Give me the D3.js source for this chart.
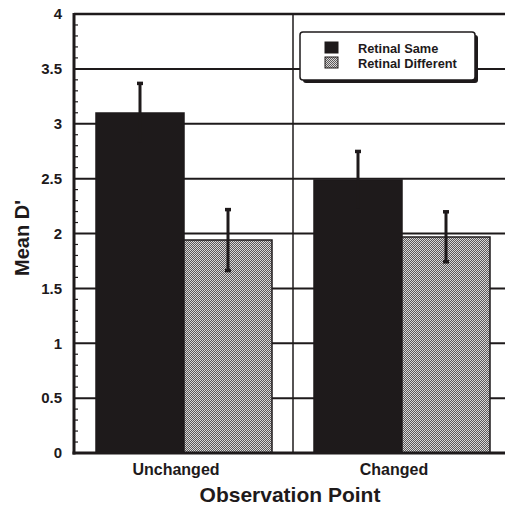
<!DOCTYPE html>
<html lang="en">
<head>
  <meta charset="UTF-8">
  <title>Mean D' by Observation Point</title>
  <style>
    body { margin: 0; background: #fff; }
    svg { display: block; }
    text { font-family: "Liberation Sans", Arial, sans-serif; fill: #1e1a1b; }
  </style>
</head>
<body>
  <svg width="505" height="506"></svg>
  <script src="https://d3js.org/d3.v7.min.js"></script>
  <script>
    const categories = ["Unchanged", "Changed"];
    const seriesNames = ["Retinal Same", "Retinal Different"];
    const sameMeans = [3.10, 2.49];
    const sameErr = [0.27, 0.26];
    const diffMeans = [1.94, 1.97];
    const diffErr = [0.28, 0.23];
    const yTicks = [0, 0.5, 1, 1.5, 2, 2.5, 3, 3.5, 4];

    const ink = "#1e1a1b";
    const svg = d3.select("svg");

    // plot area (right side runs off the picture like the scan)
    const plotL = 74, plotR = 511, plotT = 14, plotB = 453;

    // dotted screen used for the "different" bars
    const defs = svg.append("defs");
    const pat = defs.append("pattern")
      .attr("id", "dots")
      .attr("x", 0).attr("y", 0)
      .attr("width", 2).attr("height", 2)
      .attr("patternUnits", "userSpaceOnUse");
    pat.append("rect").attr("width", 2).attr("height", 2).attr("fill", "#d8d8d8")
      .attr("shape-rendering", "crispEdges");
    pat.append("rect").attr("width", 1).attr("height", 1).attr("fill", "#5c5859")
      .attr("shape-rendering", "crispEdges");
    pat.append("rect").attr("x", 1).attr("y", 1).attr("width", 1).attr("height", 1).attr("fill", "#5c5859")
      .attr("shape-rendering", "crispEdges");

    const y = d3.scaleLinear().domain([0, 4]).range([plotB, plotT]);
    const x0 = d3.scaleBand().domain(categories).range([plotL, plotR]).round(true);
    const x1 = d3.scaleBand().domain(seriesNames).range([21, x0.bandwidth() - 21]).round(true);

    const rows = categories.map((c, i) => ({
      cat: c,
      vals: [
        { s: seriesNames[0], v: sameMeans[i], e: sameErr[i] },
        { s: seriesNames[1], v: diffMeans[i], e: diffErr[i] }
      ]
    }));

    // grid lines
    svg.append("g").selectAll("line")
      .data(yTicks.filter(d => d > 0))
      .enter().append("line")
      .attr("x1", plotL).attr("x2", plotR)
      .attr("y1", d => y(d)).attr("y2", d => y(d))
      .attr("stroke", ink)
      .attr("stroke-width", d => d === 4 ? 2.5 : 2);

    // separator between categories
    svg.append("line")
      .attr("x1", x0("Changed")).attr("x2", x0("Changed"))
      .attr("y1", plotT).attr("y2", plotB)
      .attr("stroke", ink).attr("stroke-width", 1.5);

    // bars
    const groups = svg.append("g").selectAll("g")
      .data(rows).enter().append("g")
      .attr("transform", d => "translate(" + x0(d.cat) + ",0)");

    groups.selectAll(".bar")
      .data(d => d.vals).enter().append("rect")
      .attr("class", "bar")
      .attr("x", d => x1(d.s))
      .attr("y", d => Math.round(y(d.v)))
      .attr("width", x1.bandwidth())
      .attr("height", d => plotB - Math.round(y(d.v)))
      .attr("fill", d => d.s === seriesNames[0] ? ink : "url(#dots)")
      .attr("stroke", ink).attr("stroke-width", 1.5);

    // error bars (lower half disappears inside the black bars anyway)
    groups.selectAll(".err")
      .data(d => d.vals).enter().append("line")
      .attr("class", "err")
      .attr("x1", d => x1(d.s) + x1.bandwidth() / 2)
      .attr("x2", d => x1(d.s) + x1.bandwidth() / 2)
      .attr("y1", d => y(d.v - d.e)).attr("y2", d => y(d.v + d.e))
      .attr("stroke", ink).attr("stroke-width", 3);

    groups.selectAll(".cap")
      .data(d => d.vals).enter().append("rect")
      .attr("class", "cap")
      .attr("x", d => x1(d.s) + x1.bandwidth() / 2 - 3)
      .attr("y", d => y(d.v + d.e) - 1.5)
      .attr("width", 6).attr("height", 3.5)
      .attr("fill", ink);
    groups.selectAll(".capLo")
      .data(d => d.vals.filter(v => v.s === seriesNames[1])).enter().append("rect")
      .attr("class", "capLo")
      .attr("x", d => x1(d.s) + x1.bandwidth() / 2 - 3)
      .attr("y", d => y(d.v - d.e) - 2)
      .attr("width", 6).attr("height", 3.5)
      .attr("fill", ink);

    // y axis with minor ticks pointing inward
    const yAxis = d3.axisLeft(y).tickValues(yTicks).tickFormat(d3.format("")).tickSize(0).tickPadding(12);
    const ya = svg.append("g").attr("transform", "translate(" + plotL + ",0)").call(yAxis);
    ya.select(".domain").remove();
    ya.selectAll("text")
      .style("font-size", "15px").style("font-weight", "bold")
      .attr("fill", ink);

    svg.append("g").selectAll("line")
      .data(d3.range(1, 40).filter(i => i % 5 !== 0).map(i => i / 10))
      .enter().append("line")
      .attr("x1", plotL).attr("x2", plotL + 4)
      .attr("y1", d => y(d)).attr("y2", d => y(d))
      .attr("stroke", ink).attr("stroke-width", 1.2);

    svg.append("line")
      .attr("x1", plotL).attr("x2", plotL)
      .attr("y1", plotT - 1).attr("y2", plotB + 1.5)
      .attr("stroke", ink).attr("stroke-width", 3);
    svg.append("line")
      .attr("x1", plotL - 1.5).attr("x2", plotR)
      .attr("y1", plotB).attr("y2", plotB)
      .attr("stroke", ink).attr("stroke-width", 3);

    // category labels
    svg.append("g").selectAll("text")
      .data(categories).enter().append("text")
      .attr("x", d => x0(d) + x0.bandwidth() / 2 - 8)
      .attr("y", 475)
      .attr("text-anchor", "middle")
      .style("font-size", "16px").style("font-weight", "bold")
      .text(d => d);

    svg.append("text")
      .attr("x", 290).attr("y", 502)
      .attr("text-anchor", "middle")
      .style("font-size", "21px").style("font-weight", "bold")
      .text("Observation Point");

    svg.append("text")
      .attr("transform", "translate(29,238) rotate(-90)")
      .attr("text-anchor", "middle")
      .style("font-size", "20px").style("font-weight", "bold")
      .text("Mean D'");

    // legend
    const lg = svg.append("g").attr("transform", "translate(300,32)");
    lg.append("rect")
      .attr("x", 3).attr("y", 3).attr("width", 175).attr("height", 48)
      .attr("rx", 3).attr("fill", ink);
    lg.append("rect")
      .attr("width", 175).attr("height", 48).attr("rx", 3)
      .attr("fill", "#fff").attr("stroke", ink).attr("stroke-width", 1.5);
    const li = lg.selectAll(".li").data(seriesNames).enter().append("g")
      .attr("transform", (d, i) => "translate(25," + (10 + i * 15) + ")");
    li.append("rect")
      .attr("width", 13).attr("height", 11)
      .attr("fill", (d, i) => i === 0 ? ink : "url(#dots)")
      .attr("stroke", ink).attr("stroke-width", 1);
    li.append("text")
      .attr("x", 33).attr("y", 10.5)
      .style("font-size", "12.8px").style("font-weight", "bold")
      .text(d => d);
  </script>
</body>
</html>
